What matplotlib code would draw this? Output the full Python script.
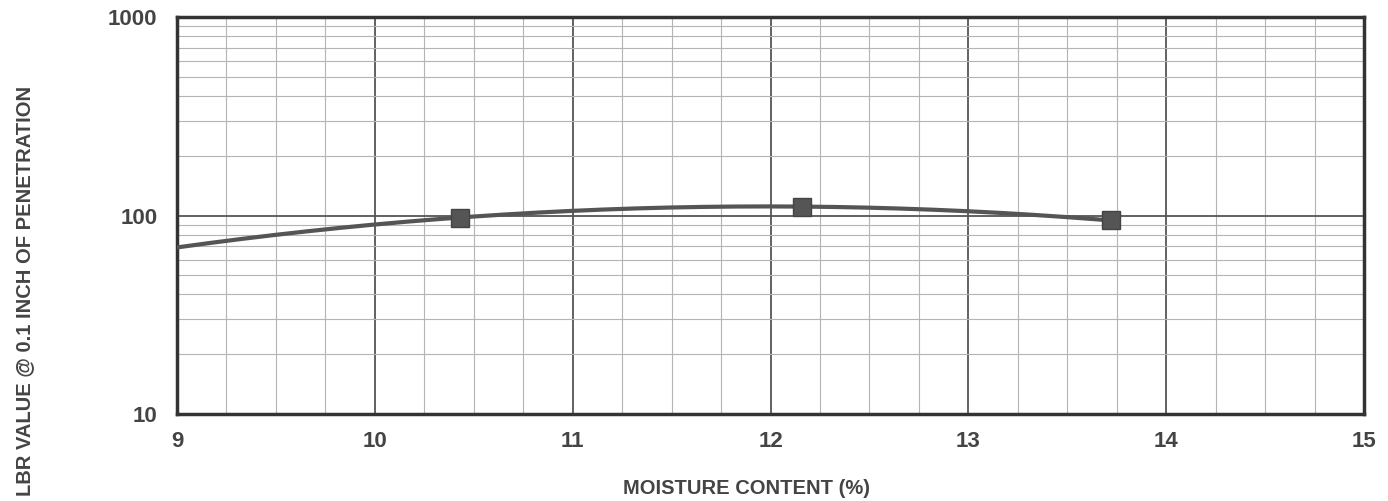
import numpy as np
import matplotlib.pyplot as plt
from matplotlib.ticker import FixedLocator, LogLocator, NullFormatter

# test points
moisture = [10.43, 12.16, 13.72]   # %
lbr = [97.7, 110.9, 94.4]           # LBR @ 0.1 in

x_ticks = [9, 10, 11, 12, 13, 14, 15]
y_ticks = [10, 100, 1000]
y_tick_labels = ['10', '100', '1000']

TXT = '#444444'
plt.rcParams['font.family'] = ['Liberation Sans', 'DejaVu Sans']
plt.rcParams['font.weight'] = 'bold'

fig = plt.figure(figsize=(13.88, 5.01), dpi=100)
ax = fig.add_axes([177/1388, 1 - 414/501, (1364-177)/1388, (414-17)/501])

# second order trend line (in log space) through the points, as the sheet did
coef = np.polyfit(moisture, np.log10(lbr), 2)
xs = np.linspace(9, moisture[-1], 200)
ax.plot(xs, 10 ** np.polyval(coef, xs), color='#555555', lw=3, zorder=3)
ax.plot(moisture, lbr, 's', color='#555555', mec='#444444', ms=13, zorder=4)

ax.set_yscale('log')
ax.set_xlim(9, 15)
ax.set_ylim(10, 1000)

ax.xaxis.set_major_locator(FixedLocator(x_ticks))
ax.xaxis.set_minor_locator(FixedLocator(np.arange(9, 15.01, 0.25)))
ax.yaxis.set_major_locator(FixedLocator(y_ticks))
ax.yaxis.set_minor_locator(LogLocator(base=10, subs=np.arange(2, 10)))
ax.yaxis.set_minor_formatter(NullFormatter())
ax.set_yticklabels(y_tick_labels)

ax.grid(which='major', color='#555555', lw=1.3)
ax.grid(which='minor', color='#b4b4b4', lw=0.8)
ax.set_axisbelow(True)

ax.tick_params(which='both', length=0)
ax.tick_params(axis='x', pad=12, labelsize=16, labelcolor=TXT)
ax.tick_params(axis='y', pad=14, labelsize=16, labelcolor=TXT)
for s in ax.spines.values():
	s.set_color('#333333')
	s.set_linewidth(2.5)

fig.text(747/1388, 1 - 488/501, 'MOISTURE CONTENT (%)', ha='center', va='center',
	fontsize=14.5, fontweight='bold', color=TXT)
fig.text(25/1388, 1 - 291/501, 'LBR VALUE @ 0.1 INCH OF PENETRATION', ha='center', va='center',
	rotation=90, fontsize=14.5, fontweight='bold', color=TXT)

fig.savefig('out.png', dpi=100)
